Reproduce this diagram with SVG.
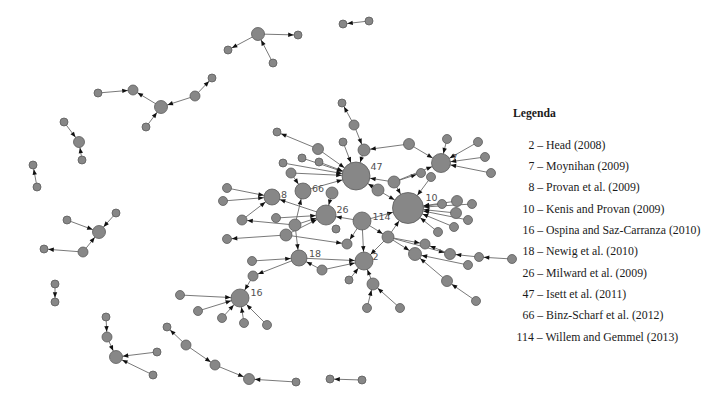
<svg xmlns="http://www.w3.org/2000/svg" width="724" height="404" viewBox="0 0 724 404">
<style>
.e{stroke:#6a6a6a;stroke-width:0.9;fill:none}
.n{fill:#878787;stroke:#5c5c5c;stroke-width:0.8}
.l{font-family:"DejaVu Sans","Liberation Sans",sans-serif;font-size:9.5px;fill:#505050}
.lg{font-family:"Liberation Serif","Times New Roman",serif;font-size:11.8px;fill:#1a1a1a}
.lgh{font-family:"Liberation Serif","Times New Roman",serif;font-size:11.7px;font-weight:bold;fill:#1a1a1a}
.t4{marker-end:url(#a4)}.t45{marker-end:url(#a45)}.t5{marker-end:url(#a5)}.t55{marker-end:url(#a55)}
.t6{marker-end:url(#a6)}.t65{marker-end:url(#a65)}.t8{marker-end:url(#a8)}.t9{marker-end:url(#a9)}
.t95{marker-end:url(#a95)}.t10{marker-end:url(#a10)}.t14{marker-end:url(#a14)}.t155{marker-end:url(#a155)}
.ah{fill:#111}
</style>
<defs>
<marker id="a4" markerUnits="userSpaceOnUse" markerWidth="6" markerHeight="5" refX="9.8" refY="2.2" orient="auto" overflow="visible"><path class="ah" d="M0,0 L5.5,2.2 L0,4.4 z"/></marker>
<marker id="a45" markerUnits="userSpaceOnUse" markerWidth="6" markerHeight="5" refX="10.3" refY="2.2" orient="auto" overflow="visible"><path class="ah" d="M0,0 L5.5,2.2 L0,4.4 z"/></marker>
<marker id="a5" markerUnits="userSpaceOnUse" markerWidth="6" markerHeight="5" refX="10.8" refY="2.2" orient="auto" overflow="visible"><path class="ah" d="M0,0 L5.5,2.2 L0,4.4 z"/></marker>
<marker id="a55" markerUnits="userSpaceOnUse" markerWidth="6" markerHeight="5" refX="11.3" refY="2.2" orient="auto" overflow="visible"><path class="ah" d="M0,0 L5.5,2.2 L0,4.4 z"/></marker>
<marker id="a6" markerUnits="userSpaceOnUse" markerWidth="6" markerHeight="5" refX="11.8" refY="2.2" orient="auto" overflow="visible"><path class="ah" d="M0,0 L5.5,2.2 L0,4.4 z"/></marker>
<marker id="a65" markerUnits="userSpaceOnUse" markerWidth="6" markerHeight="5" refX="12.3" refY="2.2" orient="auto" overflow="visible"><path class="ah" d="M0,0 L5.5,2.2 L0,4.4 z"/></marker>
<marker id="a8" markerUnits="userSpaceOnUse" markerWidth="6" markerHeight="5" refX="13.8" refY="2.2" orient="auto" overflow="visible"><path class="ah" d="M0,0 L5.5,2.2 L0,4.4 z"/></marker>
<marker id="a9" markerUnits="userSpaceOnUse" markerWidth="6" markerHeight="5" refX="14.8" refY="2.2" orient="auto" overflow="visible"><path class="ah" d="M0,0 L5.5,2.2 L0,4.4 z"/></marker>
<marker id="a95" markerUnits="userSpaceOnUse" markerWidth="6" markerHeight="5" refX="15.3" refY="2.2" orient="auto" overflow="visible"><path class="ah" d="M0,0 L5.5,2.2 L0,4.4 z"/></marker>
<marker id="a10" markerUnits="userSpaceOnUse" markerWidth="6" markerHeight="5" refX="15.8" refY="2.2" orient="auto" overflow="visible"><path class="ah" d="M0,0 L5.5,2.2 L0,4.4 z"/></marker>
<marker id="a14" markerUnits="userSpaceOnUse" markerWidth="6" markerHeight="5" refX="19.8" refY="2.2" orient="auto" overflow="visible"><path class="ah" d="M0,0 L5.5,2.2 L0,4.4 z"/></marker>
<marker id="a155" markerUnits="userSpaceOnUse" markerWidth="6" markerHeight="5" refX="21.3" refY="2.2" orient="auto" overflow="visible"><path class="ah" d="M0,0 L5.5,2.2 L0,4.4 z"/></marker>
</defs>
<rect width="724" height="404" fill="#fff"/>
<g id="connectors">
<line class="e t4" x1="258" y1="34" x2="298" y2="35"/>
<line class="e t4" x1="258" y1="34" x2="228" y2="50"/>
<line class="e t65" x1="273" y1="63" x2="258" y2="34"/>
<line class="e t5" x1="98" y1="93" x2="133" y2="90"/>
<line class="e t5" x1="161" y1="107" x2="133" y2="90"/>
<line class="e t65" x1="195" y1="96" x2="161" y2="107"/>
<line class="e t4" x1="195" y1="96" x2="212" y2="78"/>
<line class="e t65" x1="146" y1="127" x2="161" y2="107"/>
<line class="e t55" x1="64" y1="122" x2="79" y2="142"/>
<line class="e t55" x1="82" y1="160" x2="79" y2="142"/>
<line class="e t4" x1="37" y1="187" x2="33" y2="165"/>
<line class="e t65" x1="67" y1="220" x2="99" y2="232"/>
<line class="e t65" x1="116" y1="213" x2="99" y2="232"/>
<line class="e t65" x1="83" y1="252" x2="99" y2="232"/>
<line class="e t4" x1="83" y1="252" x2="44" y2="249"/>
<line class="e t4" x1="55" y1="284" x2="55" y2="302"/>
<line class="e t5" x1="106" y1="317" x2="107" y2="337"/>
<line class="e t65" x1="107" y1="337" x2="116" y2="357"/>
<line class="e t65" x1="157" y1="352" x2="116" y2="357"/>
<line class="e t65" x1="153" y1="375" x2="116" y2="357"/>
<line class="e t4" x1="186" y1="345" x2="167" y2="327"/>
<line class="e t5" x1="186" y1="345" x2="215" y2="365"/>
<line class="e t55" x1="215" y1="365" x2="249" y2="379"/>
<line class="e t55" x1="296" y1="382" x2="249" y2="379"/>
<line class="e t4" x1="362" y1="380" x2="330" y2="379"/>
<line class="e t4" x1="369" y1="21" x2="343" y2="24"/>
<line class="e t4" x1="354" y1="125" x2="342" y2="103"/>
<line class="e t6" x1="354" y1="125" x2="364" y2="150"/>
<line class="e t14" x1="364" y1="150" x2="356" y2="176"/>
<line class="e t14" x1="343" y1="142" x2="356" y2="176"/>
<line class="e t6" x1="409" y1="144" x2="364" y2="150"/>
<line class="e t95" x1="409" y1="144" x2="441" y2="163"/>
<line class="e t4" x1="318" y1="149" x2="277" y2="132"/>
<line class="e t14" x1="318" y1="149" x2="356" y2="176"/>
<line class="e t14" x1="302" y1="158" x2="356" y2="176"/>
<line class="e t14" x1="319" y1="162" x2="356" y2="176"/>
<line class="e t14" x1="283" y1="163" x2="356" y2="176"/>
<line class="e t14" x1="291" y1="173" x2="356" y2="176"/>
<line class="e t8" x1="291" y1="173" x2="303" y2="191"/>
<line class="e t14" x1="303" y1="191" x2="356" y2="176"/>
<line class="e t10" x1="332" y1="193" x2="326" y2="215"/>
<line class="e t14" x1="378" y1="190" x2="356" y2="176"/>
<line class="e t155" x1="378" y1="190" x2="408" y2="208"/>
<line class="e t14" x1="394" y1="182" x2="356" y2="176"/>
<line class="e t45" x1="394" y1="182" x2="421" y2="173"/>
<line class="e t95" x1="394" y1="182" x2="441" y2="163"/>
<line class="e t155" x1="394" y1="182" x2="408" y2="208"/>
<line class="e t155" x1="431" y1="177" x2="408" y2="208"/>
<line class="e t95" x1="447" y1="139" x2="441" y2="163"/>
<line class="e t95" x1="478" y1="142" x2="441" y2="163"/>
<line class="e t95" x1="485" y1="157" x2="441" y2="163"/>
<line class="e t95" x1="491" y1="173" x2="441" y2="163"/>
<line class="e t8" x1="227" y1="188" x2="272" y2="197"/>
<line class="e t8" x1="223" y1="201" x2="272" y2="197"/>
<line class="e t8" x1="242" y1="220" x2="272" y2="197"/>
<line class="e t8" x1="326" y1="215" x2="272" y2="197"/>
<line class="e t8" x1="295" y1="225" x2="303" y2="191"/>
<line class="e t8" x1="295" y1="225" x2="299" y2="258"/>
<line class="e t10" x1="295" y1="225" x2="326" y2="215"/>
<line class="e t5" x1="295" y1="225" x2="242" y2="220"/>
<line class="e t10" x1="276" y1="218" x2="326" y2="215"/>
<line class="e t10" x1="286" y1="235" x2="326" y2="215"/>
<line class="e t45" x1="286" y1="235" x2="227" y2="239"/>
<line class="e t5" x1="286" y1="235" x2="347" y2="244"/>
<line class="e t10" x1="362" y1="221" x2="326" y2="215"/>
<line class="e t155" x1="362" y1="221" x2="408" y2="208"/>
<line class="e t9" x1="362" y1="221" x2="364" y2="261"/>
<line class="e t5" x1="362" y1="221" x2="347" y2="244"/>
<line class="e t6" x1="362" y1="221" x2="388" y2="237"/>
<line class="e t155" x1="388" y1="237" x2="408" y2="208"/>
<line class="e t9" x1="388" y1="237" x2="364" y2="261"/>
<line class="e t5" x1="388" y1="237" x2="425" y2="244"/>
<line class="e t65" x1="388" y1="237" x2="415" y2="254"/>
<line class="e t55" x1="388" y1="237" x2="450" y2="254"/>
<line class="e t155" x1="442" y1="204" x2="408" y2="208"/>
<line class="e t155" x1="457" y1="201" x2="408" y2="208"/>
<line class="e t155" x1="472" y1="204" x2="408" y2="208"/>
<line class="e t155" x1="456" y1="213" x2="408" y2="208"/>
<line class="e t155" x1="468" y1="220" x2="408" y2="208"/>
<line class="e t155" x1="454" y1="227" x2="408" y2="208"/>
<line class="e t155" x1="438" y1="232" x2="408" y2="208"/>
<line class="e t55" x1="479" y1="257" x2="450" y2="254"/>
<line class="e t45" x1="512" y1="259" x2="479" y2="257"/>
<line class="e t5" x1="450" y1="254" x2="425" y2="244"/>
<line class="e t65" x1="468" y1="265" x2="415" y2="254"/>
<line class="e t65" x1="447" y1="281" x2="415" y2="254"/>
<line class="e t55" x1="476" y1="301" x2="447" y2="281"/>
<line class="e t8" x1="252" y1="261" x2="299" y2="258"/>
<line class="e t5" x1="299" y1="258" x2="253" y2="276"/>
<line class="e t9" x1="253" y1="276" x2="240" y2="298"/>
<line class="e t9" x1="180" y1="295" x2="240" y2="298"/>
<line class="e t9" x1="198" y1="311" x2="240" y2="298"/>
<line class="e t9" x1="222" y1="318" x2="240" y2="298"/>
<line class="e t9" x1="244" y1="323" x2="240" y2="298"/>
<line class="e t9" x1="267" y1="325" x2="240" y2="298"/>
<line class="e t9" x1="299" y1="258" x2="364" y2="261"/>
<line class="e t8" x1="322" y1="270" x2="299" y2="258"/>
<line class="e t9" x1="322" y1="270" x2="364" y2="261"/>
<line class="e t9" x1="373" y1="284" x2="364" y2="261"/>
<line class="e t9" x1="349" y1="280" x2="364" y2="261"/>
<line class="e t6" x1="367" y1="308" x2="373" y2="284"/>
<line class="e t6" x1="400" y1="308" x2="373" y2="284"/>
</g>
<g id="n_a1"><circle class="n" cx="258" cy="34" r="6.5"/></g>
<g id="n_a2"><circle class="n" cx="298" cy="35" r="4"/></g>
<g id="n_a3"><circle class="n" cx="228" cy="50" r="4"/></g>
<g id="n_a4"><circle class="n" cx="273" cy="63" r="4"/></g>
<g id="n_b1"><circle class="n" cx="98" cy="93" r="4"/></g>
<g id="n_b2"><circle class="n" cx="133" cy="90" r="5"/></g>
<g id="n_b3"><circle class="n" cx="161" cy="107" r="6.5"/></g>
<g id="n_b4"><circle class="n" cx="195" cy="96" r="5"/></g>
<g id="n_b5"><circle class="n" cx="212" cy="78" r="4"/></g>
<g id="n_b6"><circle class="n" cx="146" cy="127" r="4"/></g>
<g id="n_c1"><circle class="n" cx="64" cy="122" r="4"/></g>
<g id="n_c2"><circle class="n" cx="79" cy="142" r="5.5"/></g>
<g id="n_c3"><circle class="n" cx="82" cy="160" r="4"/></g>
<g id="n_d1"><circle class="n" cx="33" cy="165" r="4"/></g>
<g id="n_d2"><circle class="n" cx="37" cy="187" r="4"/></g>
<g id="n_e1"><circle class="n" cx="99" cy="232" r="6.5"/></g>
<g id="n_e2"><circle class="n" cx="67" cy="220" r="4"/></g>
<g id="n_e3"><circle class="n" cx="116" cy="213" r="4"/></g>
<g id="n_e4"><circle class="n" cx="83" cy="252" r="5"/></g>
<g id="n_e5"><circle class="n" cx="44" cy="249" r="4"/></g>
<g id="n_f1"><circle class="n" cx="55" cy="284" r="4"/></g>
<g id="n_f2"><circle class="n" cx="55" cy="302" r="4"/></g>
<g id="n_g1"><circle class="n" cx="106" cy="317" r="4"/></g>
<g id="n_g2"><circle class="n" cx="107" cy="337" r="5"/></g>
<g id="n_g3"><circle class="n" cx="116" cy="357" r="6.5"/></g>
<g id="n_g4"><circle class="n" cx="157" cy="352" r="4"/></g>
<g id="n_g5"><circle class="n" cx="153" cy="375" r="4"/></g>
<g id="n_h1"><circle class="n" cx="167" cy="327" r="4"/></g>
<g id="n_h2"><circle class="n" cx="186" cy="345" r="5"/></g>
<g id="n_h3"><circle class="n" cx="215" cy="365" r="5"/></g>
<g id="n_h4"><circle class="n" cx="249" cy="379" r="5.5"/></g>
<g id="n_h5"><circle class="n" cx="296" cy="382" r="4"/></g>
<g id="n_i1"><circle class="n" cx="330" cy="379" r="4"/></g>
<g id="n_i2"><circle class="n" cx="362" cy="380" r="4"/></g>
<g id="n_j1"><circle class="n" cx="343" cy="24" r="4"/></g>
<g id="n_j2"><circle class="n" cx="369" cy="21" r="4"/></g>
<g id="n_m1"><circle class="n" cx="342" cy="103" r="4"/></g>
<g id="n_m2"><circle class="n" cx="354" cy="125" r="5"/></g>
<g id="n_m3"><circle class="n" cx="364" cy="150" r="6"/></g>
<g id="n_m4"><circle class="n" cx="343" cy="142" r="4"/></g>
<g id="n_m5"><circle class="n" cx="409" cy="144" r="5.5"/></g>
<g id="n_m6"><circle class="n" cx="318" cy="149" r="5.5"/></g>
<g id="n_m7"><circle class="n" cx="277" cy="132" r="4"/></g>
<g id="n_m8"><circle class="n" cx="302" cy="158" r="4"/></g>
<g id="n_m9"><circle class="n" cx="319" cy="162" r="4"/></g>
<g id="n_m10"><circle class="n" cx="283" cy="163" r="4"/></g>
<g id="n_m11"><circle class="n" cx="291" cy="173" r="5"/></g>
<g id="n_m12"><circle class="n" cx="332" cy="193" r="6"/></g>
<g id="n_m13"><circle class="n" cx="378" cy="190" r="6"/></g>
<g id="n_m14"><circle class="n" cx="394" cy="182" r="6"/></g>
<g id="n_m15"><circle class="n" cx="421" cy="173" r="4.5"/></g>
<g id="n_m16"><circle class="n" cx="431" cy="177" r="4.5"/></g>
<g id="n_m17"><circle class="n" cx="447" cy="139" r="4.5"/></g>
<g id="n_m18"><circle class="n" cx="478" cy="142" r="4.5"/></g>
<g id="n_m19"><circle class="n" cx="485" cy="157" r="4.5"/></g>
<g id="n_m20"><circle class="n" cx="491" cy="173" r="4.5"/></g>
<g id="n_m21"><circle class="n" cx="227" cy="188" r="4.5"/></g>
<g id="n_m22"><circle class="n" cx="223" cy="201" r="4.5"/></g>
<g id="n_m23"><circle class="n" cx="242" cy="220" r="5"/></g>
<g id="n_m24"><circle class="n" cx="276" cy="218" r="4.5"/></g>
<g id="n_m25"><circle class="n" cx="295" cy="225" r="6"/></g>
<g id="n_m26"><circle class="n" cx="286" cy="235" r="6"/></g>
<g id="n_m27"><circle class="n" cx="227" cy="239" r="4.5"/></g>
<g id="n_m28"><circle class="n" cx="336" cy="229" r="4"/></g>
<g id="n_m29"><circle class="n" cx="347" cy="244" r="5"/></g>
<g id="n_m30"><circle class="n" cx="388" cy="237" r="6"/></g>
<g id="n_m31"><circle class="n" cx="442" cy="204" r="4.5"/></g>
<g id="n_m32"><circle class="n" cx="457" cy="201" r="5.5"/></g>
<g id="n_m33"><circle class="n" cx="472" cy="204" r="4.5"/></g>
<g id="n_m34"><circle class="n" cx="456" cy="213" r="5.5"/></g>
<g id="n_m35"><circle class="n" cx="468" cy="220" r="4.5"/></g>
<g id="n_m36"><circle class="n" cx="454" cy="227" r="4.5"/></g>
<g id="n_m37"><circle class="n" cx="438" cy="232" r="4.5"/></g>
<g id="n_m38"><circle class="n" cx="425" cy="244" r="5"/></g>
<g id="n_m39"><circle class="n" cx="415" cy="254" r="6.5"/></g>
<g id="n_m40"><circle class="n" cx="450" cy="254" r="5.5"/></g>
<g id="n_m41"><circle class="n" cx="468" cy="265" r="4.5"/></g>
<g id="n_m42"><circle class="n" cx="479" cy="257" r="4.5"/></g>
<g id="n_m43"><circle class="n" cx="512" cy="259" r="4.5"/></g>
<g id="n_m44"><circle class="n" cx="447" cy="281" r="5.5"/></g>
<g id="n_m45"><circle class="n" cx="476" cy="301" r="4.5"/></g>
<g id="n_m46"><circle class="n" cx="400" cy="308" r="4.5"/></g>
<g id="n_m47"><circle class="n" cx="252" cy="261" r="4.5"/></g>
<g id="n_m48"><circle class="n" cx="253" cy="276" r="5"/></g>
<g id="n_m49"><circle class="n" cx="373" cy="284" r="6"/></g>
<g id="n_m50"><circle class="n" cx="349" cy="280" r="4"/></g>
<g id="n_m51"><circle class="n" cx="367" cy="308" r="4.5"/></g>
<g id="n_m52"><circle class="n" cx="322" cy="270" r="5"/></g>
<g id="n_m53"><circle class="n" cx="180" cy="295" r="4.5"/></g>
<g id="n_m54"><circle class="n" cx="198" cy="311" r="4.5"/></g>
<g id="n_m55"><circle class="n" cx="222" cy="318" r="4.5"/></g>
<g id="n_m56"><circle class="n" cx="244" cy="323" r="4.5"/></g>
<g id="n_m57"><circle class="n" cx="267" cy="325" r="4.5"/></g>
<g id="n_47"><circle class="n" cx="356" cy="176" r="14"/><text class="l" x="370.5" y="170">47</text></g>
<g id="n_10"><circle class="n" cx="408" cy="208" r="15.5"/><text class="l" x="425.5" y="201">10</text></g>
<g id="n_26"><circle class="n" cx="326" cy="215" r="10"/><text class="l" x="336.5" y="212.5">26</text></g>
<g id="n_114"><circle class="n" cx="362" cy="221" r="9"/><text class="l" x="372.5" y="220">114</text></g>
<g id="n_2"><circle class="n" cx="364" cy="261" r="9"/><text class="l" x="372.5" y="260">2</text></g>
<g id="n_18"><circle class="n" cx="299" cy="258" r="8"/><text class="l" x="309" y="257">18</text></g>
<g id="n_16"><circle class="n" cx="240" cy="298" r="9"/><text class="l" x="250.5" y="296">16</text></g>
<g id="n_7"><circle class="n" cx="441" cy="163" r="9.5"/><text class="l" x="451.5" y="161">7</text></g>
<g id="n_8"><circle class="n" cx="272" cy="197" r="8"/><text class="l" x="281" y="197.5">8</text></g>
<g id="n_66"><circle class="n" cx="303" cy="191" r="8"/><text class="l" x="312" y="191.5">66</text></g>
<g id="legend">
<text class="lgh" x="513" y="116.5">Legenda</text>
<text class="lg" x="528.4" y="148.5">2 – Head (2008)</text>
<text class="lg" x="528.4" y="169.8">7 – Moynihan (2009)</text>
<text class="lg" x="528.4" y="191.2">8 – Provan et al. (2009)</text>
<text class="lg" x="522.5" y="212.5">10 – Kenis and Provan (2009)</text>
<text class="lg" x="522.5" y="233.8">16 – Ospina and Saz-Carranza (2010)</text>
<text class="lg" x="522.5" y="255.2">18 – Newig et al. (2010)</text>
<text class="lg" x="522.5" y="276.5">26 – Milward et al. (2009)</text>
<text class="lg" x="522.5" y="297.8">47 – Isett et al. (2011)</text>
<text class="lg" x="522.5" y="319.2">66 – Binz-Scharf et al. (2012)</text>
<text class="lg" x="516.6" y="340.5">114 – Willem and Gemmel (2013)</text>
</g>
</svg>
